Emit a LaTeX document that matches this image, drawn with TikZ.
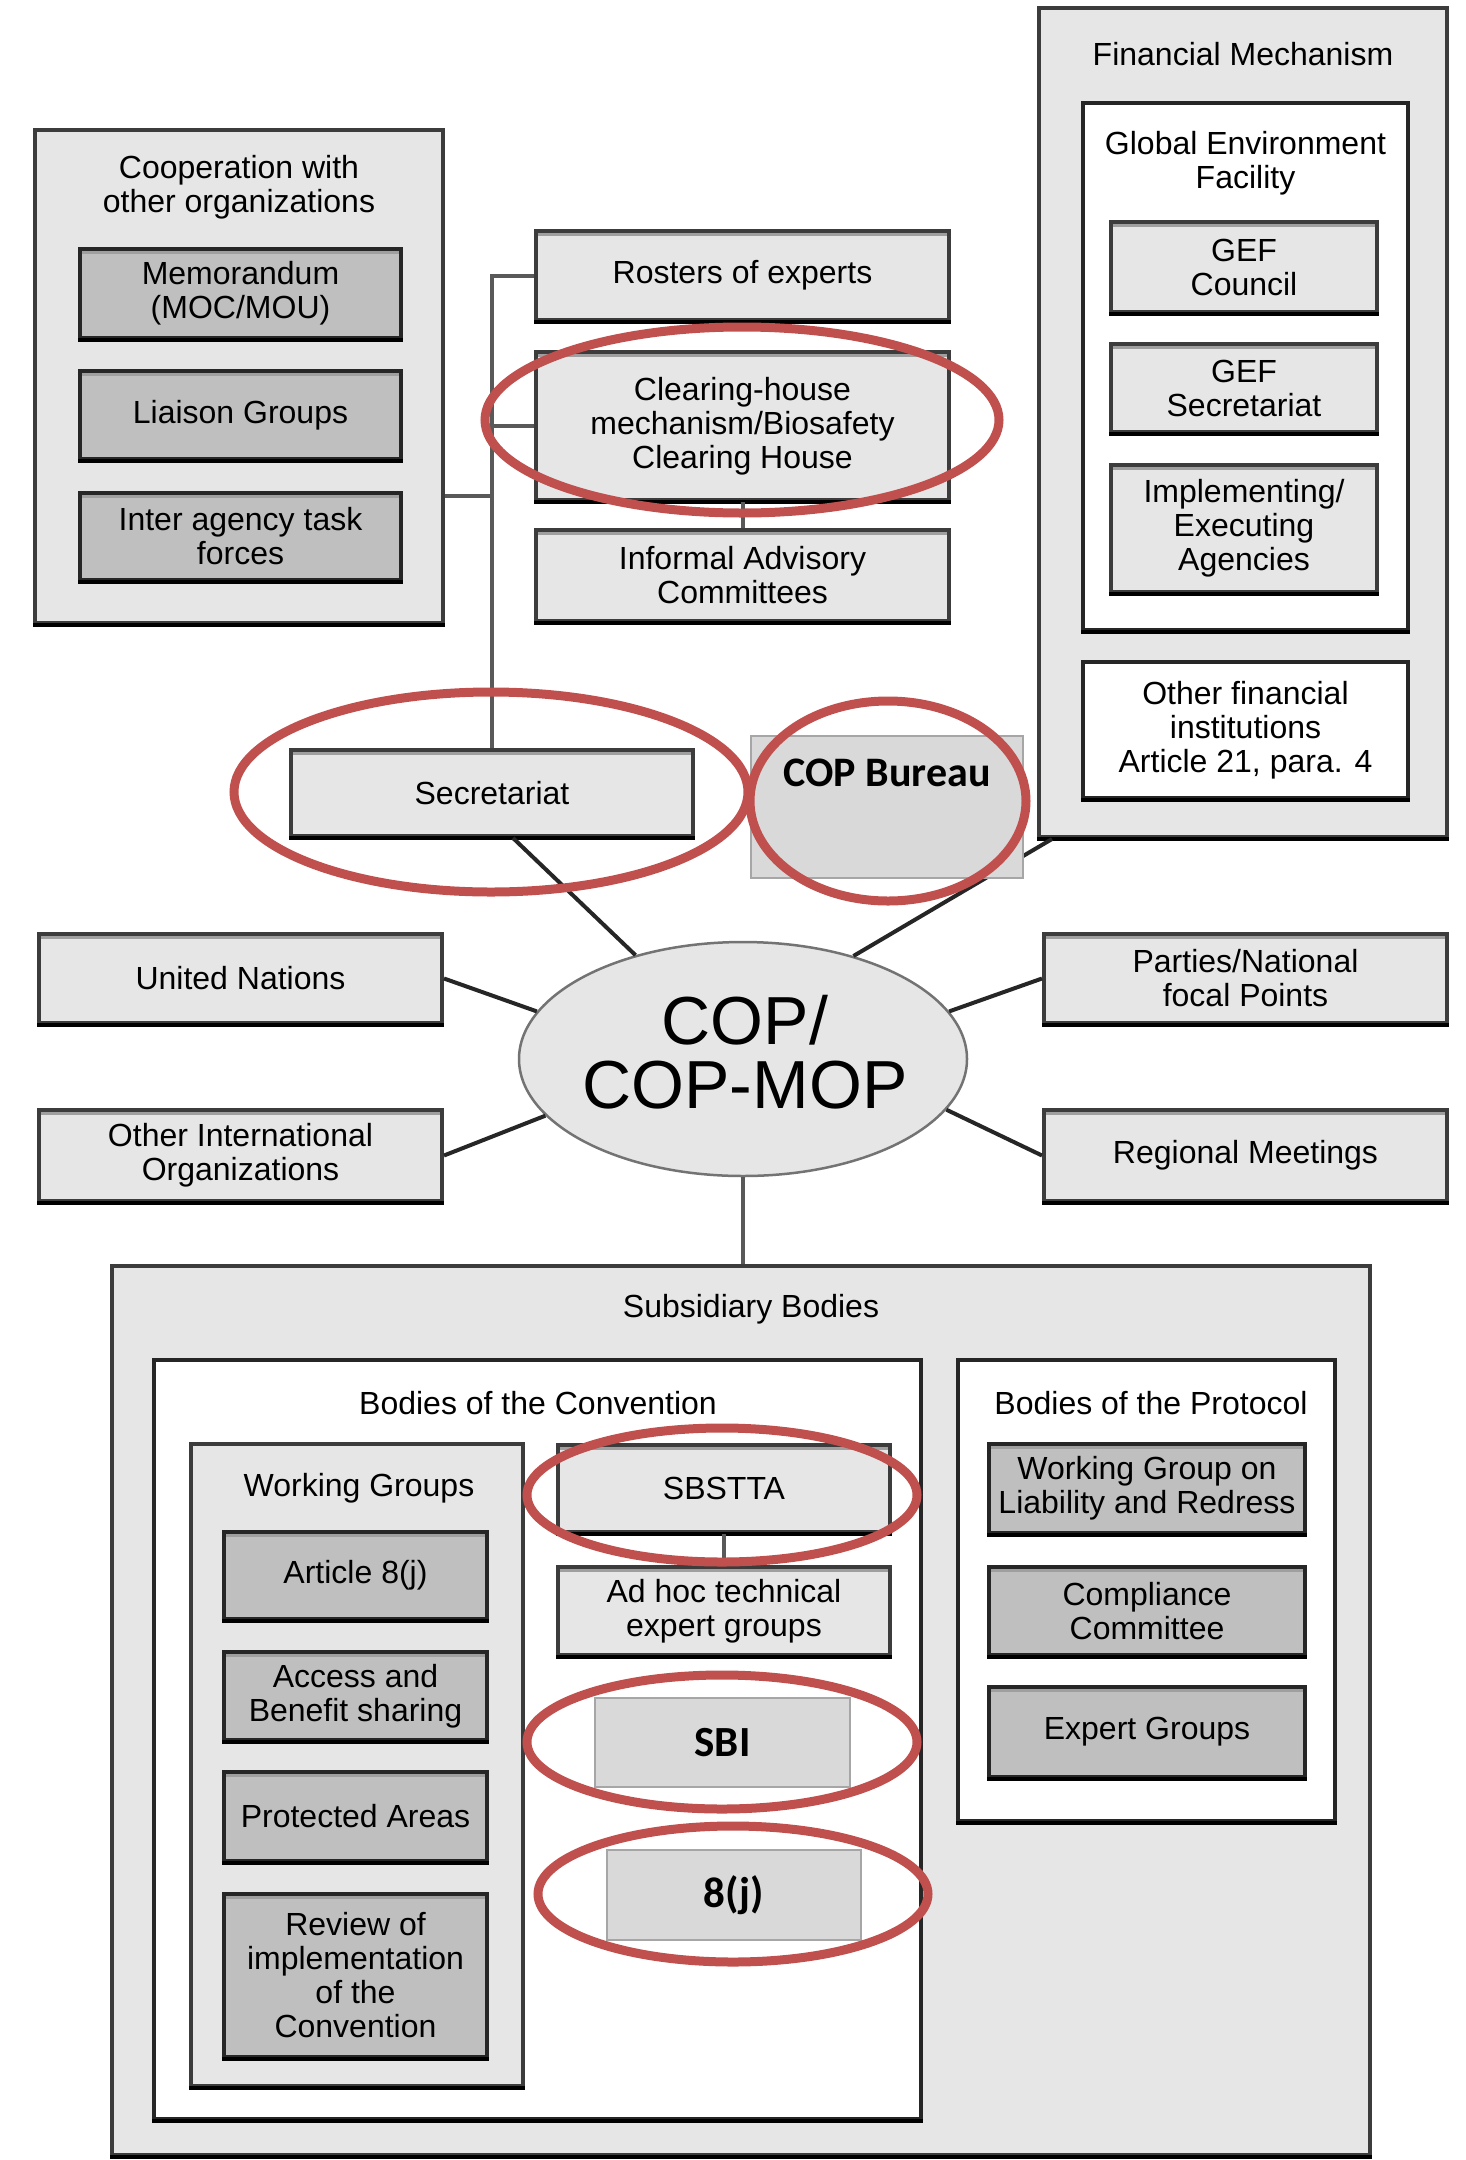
\documentclass[tikz,border=0pt]{standalone}
\usepackage{fontspec}
\setmainfont{Liberation Sans}
\newfontfamily\calib{Carlito}
\usetikzlibrary{shapes.geometric}
\definecolor{lightfill}{HTML}{E6E6E6}
\definecolor{darkfill}{HTML}{BFBFBF}
\definecolor{plainfill}{HTML}{D9D9D9}
\definecolor{ringred}{HTML}{C0504D}
\definecolor{edgecol}{HTML}{3C3C3C}
\begin{document}
\begin{tikzpicture}[x=1pt,y=-1pt,
 every node/.style={font=\fontsize{32}{34}\selectfont, align=center, inner sep=0pt},
 sz/.style 2 args={minimum width=#1pt, minimum height=#2pt},
 container/.style={rectangle, fill=lightfill, draw=edgecol, line width=4pt},
 whitebox/.style={rectangle, fill=white, draw=black!85, line width=4pt},
 lightbox/.style={rectangle, fill=lightfill, draw=edgecol, line width=4pt},
 darkbox/.style={rectangle, fill=darkfill, draw=black!85, line width=4pt},
 plainbox/.style={rectangle, fill=plainfill, draw=gray!70, line width=1.2pt},
 boldlbl/.style={font={\calib\bfseries\fontsize{43}{46}\selectfont}},
 tree/.style={draw=black!65, line width=4pt},
 spoke/.style={draw=black!85, line width=4pt},
 ringann/.style={draw=ringred, line width=9pt},
]
\useasboundingbox (0,0) rectangle (1465,2160);

% Cooperation with other organizations
\node[container, sz={408}{493}] (coop) at (239,376.5) {};
\node (cooptitle) at (239,187) {Cooperation with\\other organizations};
\node[darkbox, sz={321}{89}] (moc) at (240.5,293.5) {Memorandum\\(MOC/MOU)};
\node[darkbox, sz={321}{88}] (liais) at (240.5,415) {Liaison Groups};
\node[darkbox, sz={321}{87}] (iatf) at (240.5,536.5) {Inter agency task\\forces};

% Secretariat tree
\node[lightbox, sz={413}{89}] (rost) at (742.5,275.5) {Rosters of experts};
\node[lightbox, sz={413}{148}] (chm) at (742.5,426) {Clearing-house\\mechanism/Biosafety\\Clearing House};
\node[lightbox, sz={413}{91}] (iac) at (742.5,575.5) {Informal Advisory\\Committees};
\node[lightbox, sz={402}{86}] (sec) at (492,793) {Secretariat};

% Financial mechanism
\node[container, sz={408}{829}] (fin) at (1243,422.5) {};
\node (fintitle) at (1243,54) {Financial Mechanism};
\node[whitebox, sz={325}{527}] (gef) at (1245.5,366.5) {};
\node (geftitle) at (1245.5,163) {Global Environment\\Facility};
\node[lightbox, sz={266}{90}] (gefc) at (1244,267) {GEF\\Council};
\node[lightbox, sz={266}{88}] (gefs) at (1244,388) {GEF\\Secretariat};
\node[lightbox, sz={266}{127}] (impl) at (1244,528.5) {Implementing/\\Executing\\Agencies};
\node[whitebox, sz={325}{136}] (ofi) at (1245.5,730) {Other financial\\institutions\\Article 21, para. 4};

% COP
\node[ellipse, fill=lightfill, draw=black!55, line width=2.5pt, minimum width=448pt, minimum height=234pt] (cop) at (743,1059) {};
\node[font=\fontsize{68}{64}\selectfont] (coptext) at (745,1052) {COP/\\COP-MOP};

\node[lightbox, sz={403}{89}] (un) at (240.5,978.5) {United Nations};
\node[lightbox, sz={403}{91}] (oio) at (240.5,1155.5) {Other International\\Organizations};
\node[lightbox, sz={403}{89}] (par) at (1245.5,978.5) {Parties/National\\focal Points};
\node[lightbox, sz={403}{91}] (reg) at (1245.5,1155.5) {Regional Meetings};

% Subsidiary bodies
\node[container, sz={1258}{889}] (sub) at (741,1710.5) {};
\node (subtitle) at (751,1309) {Subsidiary Bodies};
\node[whitebox, sz={767}{759}] (bconv) at (537.5,1739.5) {};
\node (bconvtitle) at (538,1403) {Bodies of the Convention};
\node[container, sz={332}{642}] (wg) at (357,1765) {};
\node (wgtitle) at (359,1488) {Working Groups};
\node[darkbox, sz={263}{87}] (art8j) at (355.5,1575.5) {Article 8(j)};
\node[darkbox, sz={263}{88}] (abs) at (355.5,1696) {Access and\\Benefit sharing};
\node[darkbox, sz={263}{89}] (pa) at (355.5,1816.5) {Protected Areas};
\node[darkbox, sz={263}{163}] (rev) at (355.5,1975.5) {Review of\\implementation\\of the\\Convention};
\node[lightbox, sz={332}{87}] (sbst) at (724,1488.5) {SBSTTA};
\node[lightbox, sz={332}{88}] (ahteg) at (724,1611) {Ad hoc technical\\expert groups};
\node[plainbox, boldlbl, sz={255}{89}] (sbi) at (722.5,1742.5) {SBI};
\node[plainbox, boldlbl, sz={254}{90}] (wgj) at (734,1895) {8(j)};
\node[whitebox, sz={377}{461}] (bprot) at (1146.5,1590.5) {};
\node (bprottitle) at (1151,1403) {Bodies of the Protocol};
\node[darkbox, sz={316}{89}] (wglr) at (1147,1488.5) {Working Group on\\Liability and Redress};
\node[darkbox, sz={316}{88}] (cc) at (1147,1611) {Compliance\\Committee};
\node[darkbox, sz={316}{90}] (eg) at (1147,1732) {Expert Groups};

% bevel look
\foreach \n in {coop,fin,sub,gef,ofi,bconv,wg,bprot,moc,liais,iatf,rost,chm,iac,sec,gefc,gefs,impl,un,oio,par,reg,art8j,abs,pa,rev,sbst,ahteg,wglr,cc,eg}
  \draw[black, line width=4pt] (\n.south west) -- (\n.south east);
\foreach \n in {moc,liais,iatf,rost,chm,iac,sec,gefc,gefs,impl,un,oio,par,reg,art8j,abs,pa,rev,sbst,ahteg,wglr,cc,eg}
  \draw[gray!75, line width=3pt] ([xshift=4pt,yshift=-5.5pt]\n.north west) -- ([xshift=-4pt,yshift=-5.5pt]\n.north east);

% connectors
\draw[tree] (rost.west) -| (sec.north);
\draw[tree] (chm.west) -- (chm.west -| sec.north);
\draw[tree] (coop.east |- 0,496) -- (sec.north |- 0,496);
\draw[tree] (chm.south) -- (iac.north);
\draw[spoke] ([xshift=21pt]sec.south) -- (cop.136);
\draw[spoke] ([xshift=15pt]fin.south west) -- (cop.43);
\draw[spoke] (un.east) -- (cop.167);
\draw[spoke] (oio.east) -- (cop.196);
\draw[spoke] (par.west) -- (cop.13);
\draw[spoke] (reg.west) -- (cop.346);
\draw[tree] (cop.south) -- (cop.south |- sub.north);
\draw[tree] (sbst.south) -- (ahteg.north);

% COP Bureau
\node[plainbox, sz={272}{142}] (bur) at (887,807) {};
\node[font={\calib\bfseries\fontsize{42}{46}\selectfont}] (burlbl) at (887,773) {COP Bureau};

% red annotation rings
\draw[ringann] (742,420) ellipse [x radius=257pt, y radius=93pt];
\draw[ringann] (491,792) ellipse [x radius=257pt, y radius=100pt];
\draw[ringann] (888,801) ellipse [x radius=138pt, y radius=100pt];
\draw[ringann] (722,1495) ellipse [x radius=195pt, y radius=67pt];
\draw[ringann] (722,1742) ellipse [x radius=195pt, y radius=67pt];
\draw[ringann] (733,1894) ellipse [x radius=195pt, y radius=68pt];
\end{tikzpicture}
\end{document}
